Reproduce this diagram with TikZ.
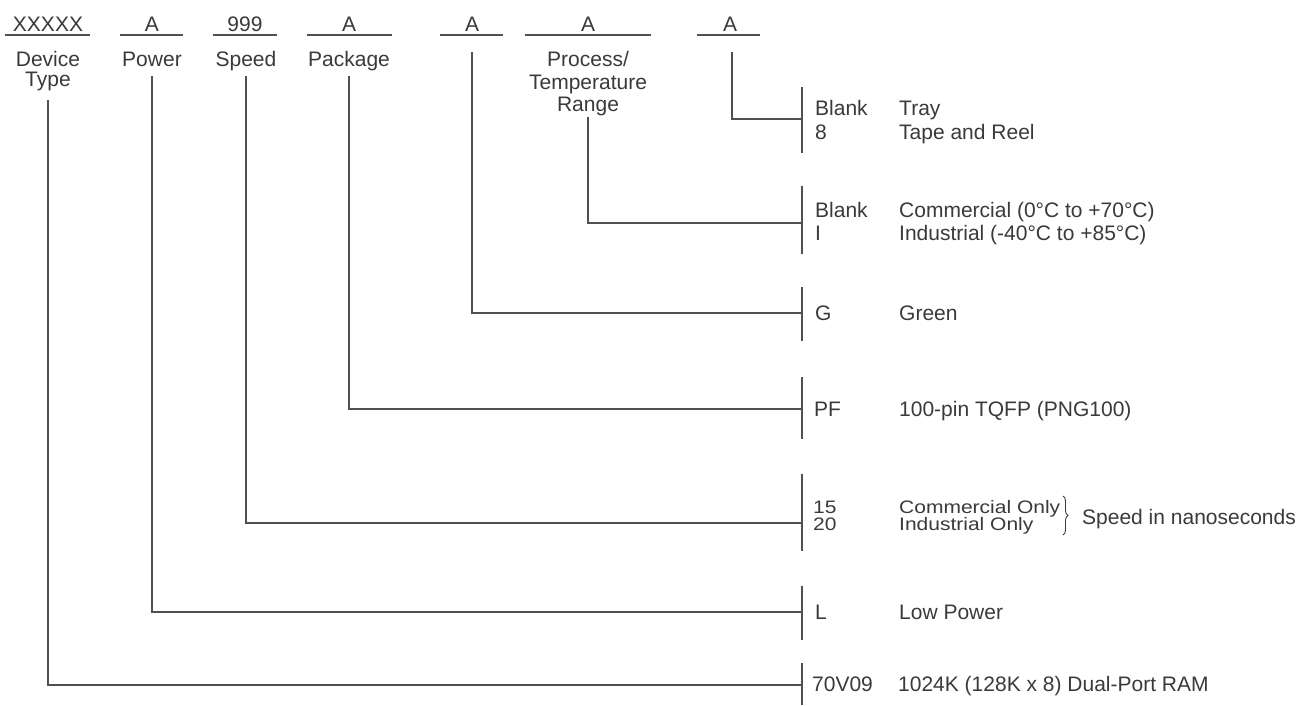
\documentclass[tikz,border=0pt]{standalone}
\usepackage{fontspec}
\setmainfont{Liberation Sans}
\usetikzlibrary{decorations.pathreplacing}
\definecolor{ink}{HTML}{3A3A3A}
\definecolor{wirec}{HTML}{505050}
\newcommand{\squish}[1]{\scalebox{1}[0.86]{#1}}
\begin{document}
\begin{tikzpicture}[x=1pt,y=-1pt,
  font=\fontsize{21}{24}\selectfont,
  txt/.style={inner sep=0pt, text=ink},
  code/.style={txt, anchor=base},
  opt/.style={txt, anchor=base west},
  wire/.style={draw=wirec, line width=1.2pt},
  ul/.style={draw=wirec, line width=1.2pt},
  brc/.style={draw=ink, line width=0.9pt, decorate, decoration={brace, amplitude=5pt}}]
\useasboundingbox[fill=white] (0,0) rectangle (1298,705);

% ---- top codes
\node[code] (cDT) at (48,31) {XXXXX};
\node[code] (cPW) at (152,31) {A};
\node[code] (cSP) at (245,31) {999};
\node[code] (cPK) at (349,31) {A};
\node[code] (cGR) at (472,31) {A};
\node[code] (cTR) at (588,31) {A};
\node[code] (cTY) at (730,31) {A};
\draw[ul] (5,35) -- (90,35);
\draw[ul] (120,35) -- (183,35);
\draw[ul] (213,35) -- (277,35);
\draw[ul] (307,35) -- (392,35);
\draw[ul] (440,35) -- (503,35);
\draw[ul] (525,35) -- (651,35);
\draw[ul] (697,35) -- (760,35);

% ---- field labels
\node[code] (lDev) at (48,66.5) {Device};
\node[code] (lType) at (48,86.5) {Type};
\node[code] (lPow) at (152,66.5) {Power};
\node[code] (lSpd) at (246,66.5) {Speed};
\node[code] (lPkg) at (349,66.5) {Package};
\node[code] (lPr1) at (588,66.5) {Process/};
\node[code] (lPr2) at (588,89) {Temperature};
\node[code] (lPr3) at (588,111.5) {Range};

% ---- connector start points
\coordinate (sDT) at (48,100);
\coordinate (sPW) at (152,76);
\coordinate (sSP) at (246,76);
\coordinate (sPK) at (349,76);
\coordinate (sGR) at (472,52);
\coordinate (sTR) at (588,117);
\coordinate (sTY) at (732,52);

% ---- bar join points
\coordinate (jTY) at (802,119);
\coordinate (jTR) at (802,223);
\coordinate (jGR) at (802,313);
\coordinate (jPK) at (802,409);
\coordinate (jSP) at (802,523);
\coordinate (jPW) at (802,612);
\coordinate (jDT) at (802,685);

% ---- bars
\draw[wire] (802,87) -- (802,153);
\draw[wire] (802,186) -- (802,254);
\draw[wire] (802,287) -- (802,341);
\draw[wire] (802,377) -- (802,439);
\draw[wire] (802,474) -- (802,551);
\draw[wire] (802,586) -- (802,640);
\draw[wire] (802,663) -- (802,705);

% ---- connectors
\draw[wire] (sTY) |- (jTY);
\draw[wire] (sTR) |- (jTR);
\draw[wire] (sGR) |- (jGR);
\draw[wire] (sPK) |- (jPK);
\draw[wire] (sSP) |- (jSP);
\draw[wire] (sPW) |- (jPW);
\draw[wire] (sDT) |- (jDT);

% ---- options
\node[opt] (oBl1) at (815,115.5) {Blank};
\node[opt] (oTray) at (899,115.5) {Tray};
\node[opt] (o8) at (815,139.5) {8};
\node[opt] (oTape) at (899,139.5) {Tape and Reel};

\node[opt] (oBl2) at (815,217.5) {Blank};
\node[opt] (oCom) at (899,217.5) {Commercial (0°C to +70°C)};
\node[opt] (oI) at (815,240.5) {I};
\node[opt] (oInd) at (899,240.5) {Industrial (-40°C to +85°C)};

\node[opt] (oG) at (815,320.5) {G};
\node[opt] (oGreen) at (899,320.5) {Green};

\node[opt] (oPF) at (814,416.5) {PF};
\node[opt] (oTQ) at (899,416.5) {100-pin TQFP (PNG100)};

\node[opt] (o15) at (813,513.5) {\squish{15}};
\node[opt] (oCO) at (899,513.5) {\squish{Commercial Only}};
\node[opt] (o20) at (813,530.5) {\squish{20}};
\node[opt] (oIO) at (899,530.5) {\squish{Industrial Only}};
\draw[brc] (1063,496) -- (1063,535);
\node[opt] (oNs) at (1082,524.5) {Speed in nanoseconds};

\node[opt] (oL) at (815,619.5) {L};
\node[opt] (oLP) at (899,619.5) {Low Power};

\node[opt] (o70) at (812,691.5) {70V09};
\node[opt] (oRAM) at (898,691.5) {1024K (128K x 8) Dual-Port RAM};
\end{tikzpicture}
\end{document}
